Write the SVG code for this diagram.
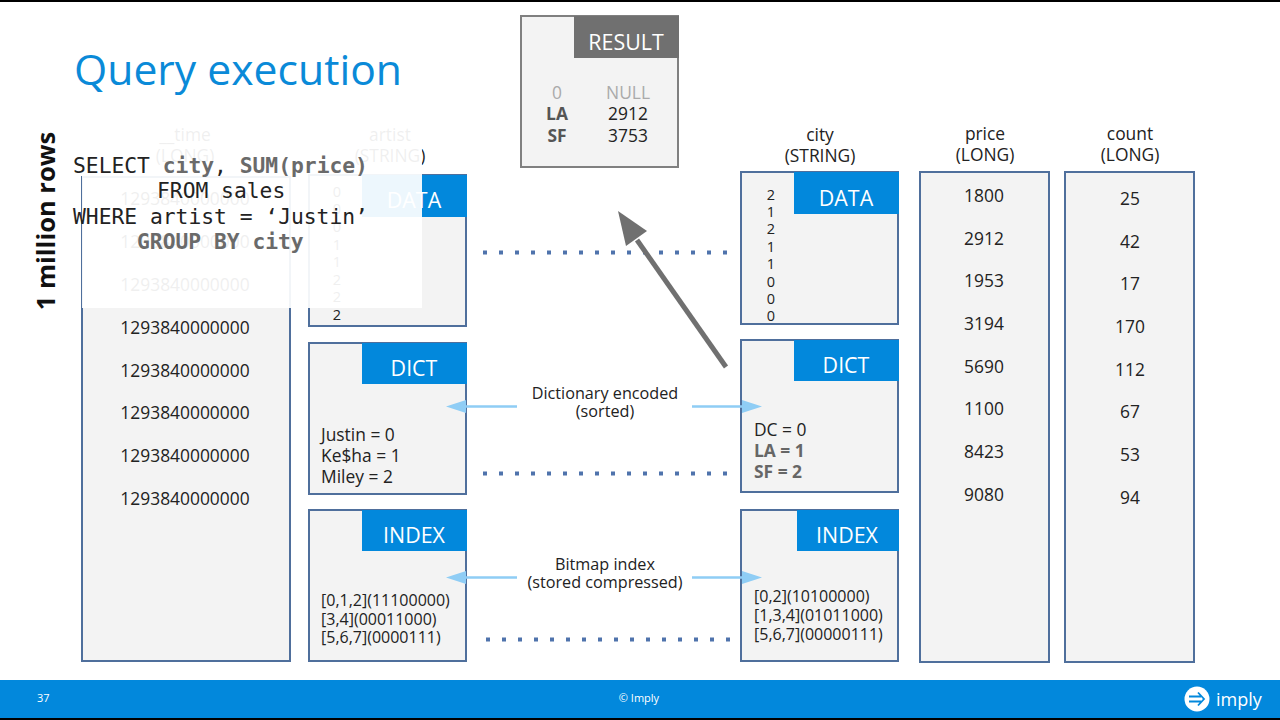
<svg xmlns="http://www.w3.org/2000/svg" width="1280" height="720" viewBox="0 0 1280 720">
<style>
text{font-family:"Open Sans","Liberation Sans",sans-serif;fill:#222}
.m{text-anchor:middle}
.v{font-size:17.400px}
.hd{font-size:17.400px;text-anchor:middle}
.box{fill:#f3f3f3;stroke:#4f6f9c;stroke-width:2}
.tab{fill:#0288dc}
.tl{font-size:21.400px;fill:#fff;text-anchor:middle}
.small{font-size:16px}
.dot{fill:none;stroke:#4f73ac;stroke-width:4;stroke-dasharray:4 12}
.la{stroke:#8fcdf5;stroke-width:2.500;fill:none}
.ah{fill:#8fcdf5}
.lab{font-size:16.200px;text-anchor:middle}
.code{font-family:"DejaVu Sans Mono","Liberation Mono",monospace;font-size:21.300px;fill:#222}
.cb{font-weight:bold;fill:#6a6a6a}
</style>
<rect width="1280" height="720" fill="#fff"/>
<rect width="1280" height="2" fill="#000"/>
<text x="74" y="85" font-size="42.700" style="fill:#0a8ad8">Query execution</text>
<text transform="translate(55,221) rotate(-90)" class="m" font-size="25.500" font-weight="bold" style="fill:#111">1 million rows</text>

<g id="col-time">
<text x="185" y="141" class="hd">__time</text><text x="185" y="162" class="hd">(LONG)</text>
<rect class="box" x="82" y="177" width="208" height="484"/>
<g class="m v"><text x="185" y="205">1293840000000</text><text x="185" y="248">1293840000000</text><text x="185" y="291">1293840000000</text><text x="185" y="334">1293840000000</text><text x="185" y="377">1293840000000</text><text x="185" y="419">1293840000000</text><text x="185" y="462">1293840000000</text><text x="185" y="505">1293840000000</text></g>
</g>

<g id="col-artist">
<text x="390" y="141" class="hd">artist</text><text x="390" y="162" class="hd">(STRING)</text>
</g>
<g id="artist-data">
<rect class="box" x="309" y="175" width="157" height="151"/><rect class="tab" x="362" y="175" width="105" height="42"/>
<text x="414" y="208" class="tl">DATA</text>
<g class="m" font-size="14.500"><text x="337" y="197">0</text><text x="337" y="214">0</text><text x="337" y="232">0</text><text x="337" y="250">1</text><text x="337" y="267">1</text><text x="337" y="285">2</text><text x="337" y="302">2</text><text x="337" y="320">2</text></g>
</g>
<g id="artist-dict">
<rect class="box" x="309" y="343" width="157" height="151"/><rect class="tab" x="362" y="343" width="105" height="41"/>
<text x="414" y="376" class="tl">DICT</text>
<g class="v"><text x="321" y="441">Justin = 0</text><text x="321" y="462">Ke$ha = 1</text><text x="321" y="483">Miley = 2</text></g>
</g>
<g id="artist-index">
<rect class="box" x="309" y="510" width="157" height="151"/><rect class="tab" x="362" y="510" width="105" height="41"/>
<text x="414" y="543" class="tl">INDEX</text>
<g class="small"><text x="321" y="606">[0,1,2](11100000)</text><text x="321" y="625">[3,4](00011000)</text><text x="321" y="643">[5,6,7](0000111)</text></g>
</g>

<g id="city-head"><text x="820" y="141" class="hd">city</text><text x="820" y="162" class="hd">(STRING)</text></g>
<g id="city-data">
<rect class="box" x="741" y="172" width="157" height="152"/><rect class="tab" x="794" y="172" width="105" height="42"/>
<text x="846" y="206" class="tl">DATA</text>
<g class="m" font-size="14.500"><text x="771" y="200">2</text><text x="771" y="217">1</text><text x="771" y="234">2</text><text x="771" y="252">1</text><text x="771" y="269">1</text><text x="771" y="287">0</text><text x="771" y="304">0</text><text x="771" y="321">0</text></g>
</g>
<g id="city-dict">
<rect class="box" x="741" y="340" width="157" height="152"/><rect class="tab" x="794" y="340" width="105" height="41"/>
<text x="846" y="373" class="tl">DICT</text>
<g class="v"><text x="754" y="436">DC = 0</text><text x="754" y="457" font-weight="bold" style="fill:#666">LA = 1</text><text x="754" y="478" font-weight="bold" style="fill:#666">SF = 2</text></g>
</g>
<g id="city-index">
<rect class="box" x="741" y="510" width="157" height="151"/><rect class="tab" x="797" y="510" width="102" height="41"/>
<text x="847" y="543" class="tl">INDEX</text>
<g class="small"><text x="754" y="602">[0,2](10100000)</text><text x="754" y="621">[1,3,4](01011000)</text><text x="754" y="640">[5,6,7](00000111)</text></g>
</g>

<g id="col-price">
<text x="985" y="140" class="hd">price</text><text x="985" y="161" class="hd">(LONG)</text>
<rect class="box" x="920" y="172" width="129" height="490"/>
<g class="m v"><text x="984" y="202">1800</text><text x="984" y="245">2912</text><text x="984" y="287">1953</text><text x="984" y="330">3194</text><text x="984" y="373">5690</text><text x="984" y="415">1100</text><text x="984" y="458">8423</text><text x="984" y="501">9080</text></g>
</g>
<g id="col-count">
<text x="1130" y="140" class="hd">count</text><text x="1130" y="161" class="hd">(LONG)</text>
<rect class="box" x="1065" y="172" width="129" height="490"/>
<g class="m v"><text x="1130" y="205">25</text><text x="1130" y="248">42</text><text x="1130" y="290">17</text><text x="1130" y="333">170</text><text x="1130" y="376">112</text><text x="1130" y="418">67</text><text x="1130" y="461">53</text><text x="1130" y="504">94</text></g>
</g>

<g id="connectors">
<path class="dot" d="M483 252.500H730M483 473.500H730M486 639.500H733"/>
<path class="la" d="M517 406.500H462M692 406.500H748M517 577.500H462M692 577.500H748"/>
<path class="ah" d="M446 406.500L466 400V413ZM762 406.500L742 400V413ZM446 577.500L466 571V584ZM762 577.500L742 571V584Z"/>
<path d="M726 367L637 240" stroke="#707070" stroke-width="5" fill="none"/>
<path d="M618 211L647 231L626 246Z" fill="#707070"/>
</g>
<g id="labels">
<text x="605" y="399" class="lab">Dictionary encoded</text><text x="605" y="417" class="lab">(sorted)</text>
<text x="605" y="570" class="lab">Bitmap index</text><text x="605" y="588" class="lab">(stored compressed)</text>
</g>

<g id="result">
<rect x="521" y="16" width="157" height="151" fill="#f3f3f3" stroke="#808080" stroke-width="2"/>
<rect x="574" y="16" width="105" height="42" fill="#707070"/>
<text x="626" y="50" class="tl">RESULT</text>
<g class="v m"><text x="557" y="99" style="fill:#aaa">0</text><text x="628" y="99" style="fill:#aaa">NULL</text><text x="557" y="120" font-weight="bold" style="fill:#555">LA</text><text x="628" y="120">2912</text><text x="557" y="142" font-weight="bold" style="fill:#555">SF</text><text x="628" y="142">3753</text></g>
</g>

<rect x="82" y="110" width="340" height="198" fill="#fff" opacity=".93"/>
<g id="query">
<text x="73" y="173" class="code">SELECT <tspan class="cb">city</tspan>, <tspan class="cb">SUM(price)</tspan></text>
<text x="157" y="198" class="code">FROM sales</text>
<text x="73" y="224" class="code">WHERE artist = ‘Justin’</text>
<text x="137" y="249" class="code cb">GROUP BY city</text>
</g>

<g id="footer">
<rect y="680" width="1280" height="38" fill="#0288dc"/>
<rect y="718" width="1280" height="2" fill="#000"/>
<text x="37" y="702" font-size="11" style="fill:#fff">37</text>
<text x="639" y="702" font-size="11" class="m" style="fill:#fff">© Imply</text>
<circle cx="1197" cy="699" r="12.500" fill="#fff"/>
<path d="M1189 696.500H1201M1189 701.500H1201M1198 692.500L1204 699L1198 705.500" fill="none" stroke="#0288dc" stroke-width="1.800"/>
<text x="1216" y="706" font-size="18" style="fill:#fff">imply</text>
</g>
</svg>
